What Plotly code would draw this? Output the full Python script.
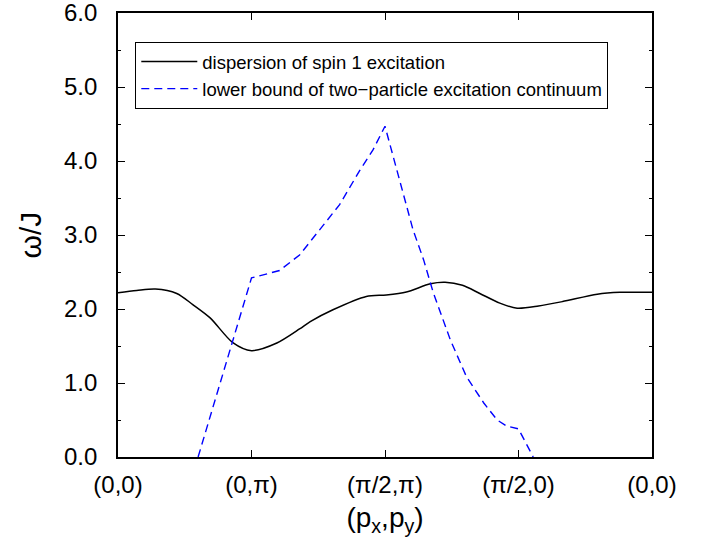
import plotly.graph_objects as go

# path coordinate (each high-symmetry segment = 1 unit)
tick_vals = [0, 1, 2, 3, 4]
tick_text = ["(0,0)", "(0,π)", "(π/2,π)", "(π/2,0)", "(0,0)"]

# dispersion of spin 1 excitation
disp_x = [0.0, 0.14, 0.28, 0.44, 0.56, 0.69, 0.86, 1.0, 1.19, 1.36, 1.44, 1.61, 1.86, 2.01,
          2.16, 2.34, 2.45, 2.58, 2.71, 2.86, 2.99, 3.15, 3.33, 3.59, 3.76, 4.0]
disp_y = [2.22, 2.25, 2.27, 2.21, 2.06, 1.88, 1.545, 1.437, 1.54, 1.73, 1.83, 1.99, 2.17, 2.19,
          2.23, 2.34, 2.36, 2.32, 2.21, 2.08, 2.01, 2.04, 2.10, 2.20, 2.225, 2.225]

# lower bound of two-particle excitation continuum
cont_x = [0.60, 1.0, 1.21, 1.36, 1.51, 1.66, 1.81, 1.91, 2.0, 2.06, 2.14, 2.21, 2.29, 2.36,
          2.49, 2.61, 2.74, 2.84, 2.91, 3.0, 3.11]
cont_y = [0.0, 2.42, 2.52, 2.73, 3.07, 3.41, 3.87, 4.15, 4.47, 4.07, 3.53, 3.07, 2.66, 2.23,
          1.58, 1.085, 0.73, 0.50, 0.42, 0.38, 0.0]

FONT = "Liberation Sans, Arial, sans-serif"

fig = go.Figure()
fig.add_trace(go.Scatter(x=disp_x, y=disp_y, mode="lines",
                         line=dict(color="black", width=1.5, shape="spline", smoothing=0.8),
                         name="dispersion of spin 1 excitation"))
fig.add_trace(go.Scatter(x=cont_x, y=cont_y, mode="lines",
                         line=dict(color="#0000ff", width=1.4, dash="8px,5px"),
                         name="lower bound of two\u2212particle excitation continuum"))

fig.update_layout(
    width=704, height=544,
    margin=dict(l=118, r=52, t=13, b=87, autoexpand=False),
    paper_bgcolor="white", plot_bgcolor="white",
    font=dict(family=FONT, color="black"),
    showlegend=True,
    legend=dict(x=0.032, y=0.935, xanchor="left", yanchor="top",
                bordercolor="black", borderwidth=1.2, bgcolor="white",
                font=dict(size=18.5, family=FONT), tracegroupgap=0,
                itemwidth=56),
    # top frame line with inside ticks (mirror of the bottom axis)
    xaxis2=dict(overlaying="x", side="top", matches="x", range=[0, 4],
                tickvals=tick_vals, showticklabels=False,
                ticks="inside", ticklen=7, tickwidth=1.3, tickcolor="black",
                showline=True, linecolor="black", linewidth=1.6,
                showgrid=False, zeroline=False),
)
fig.update_xaxes(selector=dict(anchor="y"))
fig.update_layout(xaxis=dict(range=[0, 4], tickvals=tick_vals, ticktext=tick_text,
                 ticks="inside", ticklen=7, tickwidth=1.3, tickcolor="black",
                 showline=True, linecolor="black", linewidth=1.6, mirror="ticks",
                 showgrid=False, zeroline=False,
                 ticklabeloverflow="allow",
                 tickfont=dict(size=24), ticklabelstandoff=5,
                 title=dict(text="(p<sub>x</sub>,p<sub>y</sub>)", font=dict(size=28), standoff=11)))
fig.update_yaxes(range=[0, 6], tickvals=[0, 1, 2, 3, 4, 5, 6],
                 ticktext=["0.0", "1.0", "2.0", "3.0", "4.0", "5.0", "6.0"],
                 ticks="inside", ticklen=7, tickwidth=1.3, tickcolor="black",
                 minor=dict(dtick=0.5, ticks="inside", ticklen=3.5, tickwidth=1.3, tickcolor="black"),
                 showline=True, linecolor="black", linewidth=1.6, mirror="ticks",
                 showgrid=False, zeroline=False,
                 ticklabeloverflow="allow",
                 tickfont=dict(size=24), ticklabelstandoff=14,
                 title=dict(text="ω/J", font=dict(size=30), standoff=14))
# invisible helper trace so the top axis is drawn
fig.add_trace(go.Scatter(x=[0, 4], y=[0, 0], xaxis="x2", mode="lines",
                         line=dict(width=0), showlegend=False, hoverinfo="skip"))

fig.write_html("out.html", config={"displayModeBar": False},
               post_script="document.body.style.margin='0px';")
